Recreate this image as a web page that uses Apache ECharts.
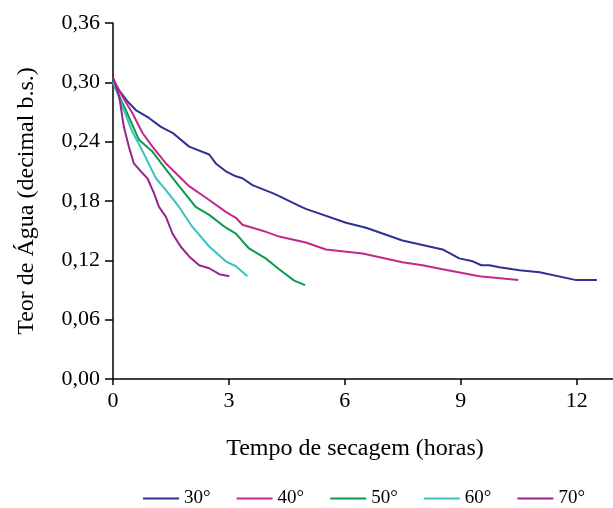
<!DOCTYPE html>
<html>
<head>
<meta charset="utf-8">
<script src="https://cdn.jsdelivr.net/npm/echarts@6/dist/echarts.min.js"></script>
<style>
html,body{margin:0;padding:0;background:#fff;}
#chart{width:613px;height:508px;}
</style>
</head>
<body>
<div id="chart"></div>
<script>
var seriesNames = ['30°', '40°', '50°', '60°', '70°'];
var xTicks = [0, 3, 6, 9, 12];
var yTicks = [0, 0.06, 0.12, 0.18, 0.24, 0.30, 0.36];

var t30 = [0, 0.37, 0.59, 0.93, 1.24, 1.54, 1.97, 2.49, 2.66, 2.92, 3.18, 3.35, 3.61, 4.13, 4.30, 4.82, 4.99, 6.03, 6.55, 7.49, 8.53, 8.96, 9.31, 9.53, 9.74, 10.0, 10.52, 11.04, 11.99, 12.52];
var w30 = [0.300, 0.281, 0.272, 0.264, 0.255, 0.249, 0.235, 0.227, 0.218, 0.210, 0.205, 0.203, 0.196, 0.188, 0.185, 0.175, 0.172, 0.158, 0.153, 0.140, 0.131, 0.122, 0.119, 0.115, 0.115, 0.113, 0.110, 0.108, 0.100, 0.100];

var t40 = [0, 0.24, 0.50, 0.76, 1.02, 1.37, 1.97, 2.49, 2.92, 3.18, 3.35, 3.87, 4.30, 4.99, 5.51, 6.46, 7.49, 8.01, 8.53, 9.48, 10.49];
var w40 = [0.304, 0.286, 0.269, 0.249, 0.235, 0.218, 0.195, 0.181, 0.169, 0.163, 0.156, 0.150, 0.144, 0.138, 0.131, 0.127, 0.118, 0.115, 0.111, 0.104, 0.100];

var t50 = [0, 0.33, 0.67, 1.02, 1.37, 1.71, 2.14, 2.49, 2.92, 3.18, 3.52, 3.95, 4.30, 4.69, 4.97];
var w50 = [0.299, 0.272, 0.242, 0.230, 0.212, 0.195, 0.174, 0.166, 0.153, 0.147, 0.132, 0.122, 0.111, 0.0995, 0.095];

var t60 = [0, 0.24, 0.50, 0.72, 1.11, 1.37, 1.71, 2.05, 2.49, 2.92, 3.18, 3.48];
var w60 = [0.301, 0.276, 0.250, 0.234, 0.203, 0.191, 0.174, 0.154, 0.134, 0.119, 0.114, 0.104];

var t70 = [0, 0.16, 0.28, 0.41, 0.54, 0.72, 0.89, 1.06, 1.19, 1.37, 1.54, 1.75, 1.97, 2.23, 2.49, 2.75, 3.01];
var w70 = [0.305, 0.286, 0.255, 0.235, 0.218, 0.210, 0.203, 0.188, 0.174, 0.164, 0.147, 0.134, 0.124, 0.115, 0.112, 0.106, 0.104];

var colors = ['#2e3192', '#c2288e', '#0d9a4a', '#3cc1c0', '#93278f'];

function zip(t, w) { return t.map(function (v, i) { return [v, w[i]]; }); }
var allT = [t30, t40, t50, t60, t70];
var allW = [w30, w40, w50, w60, w70];

var font = "'Liberation Serif', 'Times New Roman', serif";

var chart = echarts.init(document.getElementById('chart'), null, {renderer: 'canvas'});
chart.setOption({
  animation: false,
  backgroundColor: '#fff',
  color: colors,
  textStyle: {fontFamily: font, color: '#000'},
  grid: {left: 113, right: 0, top: 23, bottom: 129, containLabel: false},
  xAxis: {
    type: 'value', min: 0, max: 12.94, interval: 3,
    name: 'Tempo de secagem (horas)', nameLocation: 'middle', nameGap: 58,
    nameTextStyle: {fontFamily: font, fontSize: 24, color: '#000', padding: [0, 16, 0, 0]},
    axisLine: {show: true, onZero: false, lineStyle: {color: '#000', width: 1.5}},
    axisTick: {show: true, length: 6, lineStyle: {color: '#000', width: 1.5}, customValues: xTicks},
    axisLabel: {fontFamily: font, fontSize: 22, color: '#000', margin: 11, customValues: xTicks},
    splitLine: {show: false}
  },
  yAxis: {
    type: 'value', min: 0, max: 0.36, interval: 0.06,
    name: 'Teor de Água (decimal b.s.)', nameLocation: 'middle', nameGap: 74,
    nameTextStyle: {fontFamily: font, fontSize: 24, color: '#000'},
    axisLine: {show: true, onZero: false, lineStyle: {color: '#000', width: 1.5}},
    axisTick: {show: true, length: 8, lineStyle: {color: '#000', width: 1.5}, customValues: yTicks},
    axisLabel: {fontFamily: font, fontSize: 22, color: '#000', margin: 13, customValues: yTicks,
      formatter: function (v) { return v.toFixed(2).replace('.', ','); }},
    splitLine: {show: false}
  },
  legend: {
    left: 143, top: 489, padding: 0, itemWidth: 36, itemHeight: 2, itemGap: 26, icon: 'rect',
    data: seriesNames,
    textStyle: {fontFamily: font, fontSize: 19, color: '#000'}
  },
  series: seriesNames.map(function (n, i) {
    return {
      name: n, type: 'line', symbol: 'none', smooth: false,
      data: zip(allT[i], allW[i]),
      lineStyle: {width: 2, color: colors[i]},
      itemStyle: {color: colors[i]}
    };
  })
});
</script>
</body>
</html>
